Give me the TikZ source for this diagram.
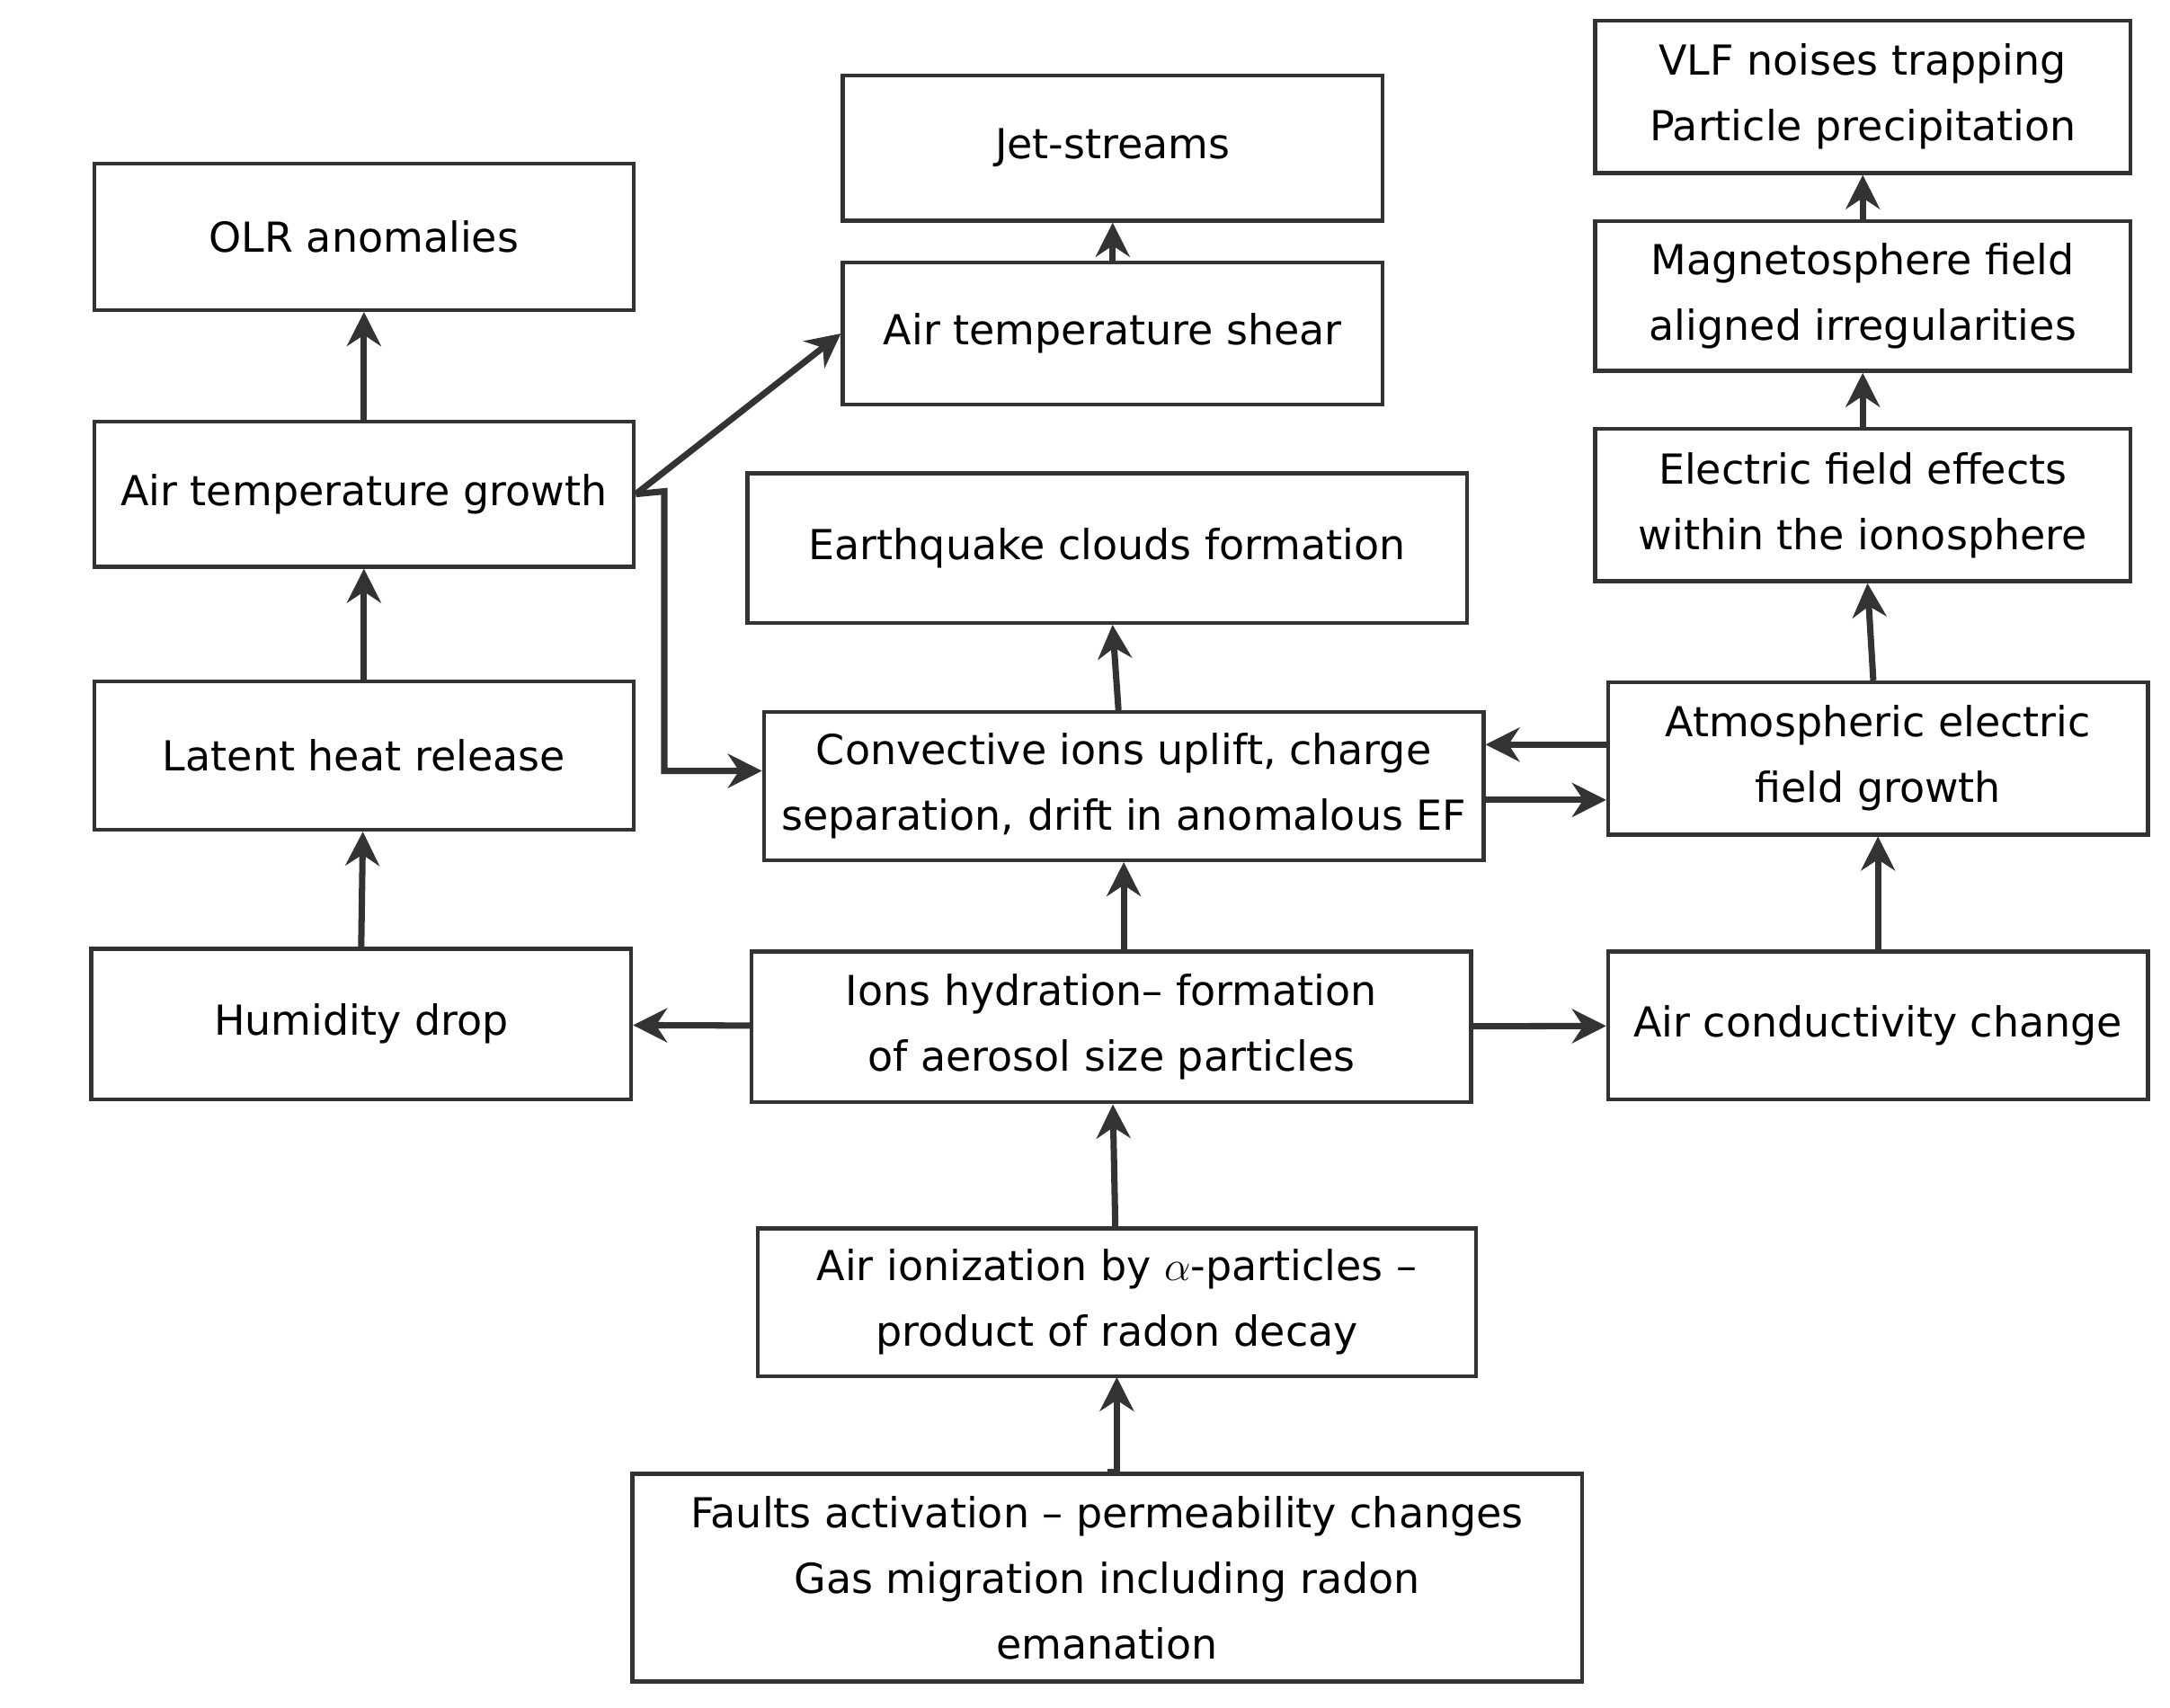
\documentclass[tikz,border=0pt]{standalone}
\usepackage{fontspec}
\setmainfont{DejaVu Sans}
\usetikzlibrary{arrows.meta}
\begin{document}
\begin{tikzpicture}[x=0.02cm,y=-0.02cm,
  box/.style 2 args={draw=black!80,line width=1.6pt,align=center,inner sep=0pt,
    minimum width={#1*0.02cm},minimum height={#2*0.02cm},
    font=\fontsize{17}{27}\selectfont},
  arr/.style={line width=2.6pt,draw=black!80,-{Stealth[length=14pt,width=14pt]}}]
\useasboundingbox (0,0) rectangle (1568,1234);
\node[box={390}{106}] (olr) at (263,171) {OLR anomalies};
\node[box={390}{105}] (jet) at (804,107) {Jet-streams};
\node[box={387}{110}] (vlf) at (1346,70) {VLF noises trapping\\Particle precipitation};
\node[box={390}{103}] (shear) at (804,241) {Air temperature shear};
\node[box={387}{108}] (mag) at (1346,214) {Magnetosphere field\\aligned irregularities};
\node[box={390}{105}] (atg) at (263,357) {Air temperature growth};
\node[box={520}{108}] (eqc) at (800,396) {Earthquake clouds formation};
\node[box={387}{110}] (efe) at (1346,365) {Electric field effects\\within the ionosphere};
\node[box={390}{107}] (lhr) at (263,546) {Latent heat release};
\node[box={520}{107}] (conv) at (812,568) {Convective ions uplift, charge\\separation, drift in anomalous EF};
\node[box={390}{110}] (aef) at (1357,548) {Atmospheric electric\\field growth};
\node[box={390}{109}] (hum) at (261,740) {Humidity drop};
\node[box={520}{109}] (ion) at (803,742) {Ions hydration-- formation\\of aerosol size particles};
\node[box={390}{107}] (acc) at (1357,741) {Air conductivity change};
\node[box={519}{107}] (air) at (807,941) {Air ionization by $\alpha$-particles --\\product of radon decay};
\node[box={686}{150}] (flt) at (800,1140) {Faults activation -- permeability changes\\Gas migration including radon\\emanation};
\coordinate (bend1) at (480,355);
\coordinate (bend2) at (480,557);
\draw[arr] (flt.north) -- (air.north|-flt.north) ++(0,0) -- (807,995) ;
\draw[arr] (air) -- (ion);
\draw[arr] (ion.north-|conv) ++(0,0) -- (conv);
\draw[arr] (ion) -- (hum);
\draw[arr] (ion) -- (acc);
\draw[arr] (acc) -- (aef);
\draw[arr] (aef) -- (efe);
\draw[arr] (efe) -- (mag);
\draw[arr] (mag) -- (vlf);
\draw[arr] (hum.north) -- (lhr);
\draw[arr] (lhr) -- (atg);
\draw[arr] (atg) -- (olr);
\draw[arr] (conv) -- (eqc);
\draw[arr] (shear) -- (jet);
\draw[arr] (atg.east) -- (shear.west);
\draw[arr] (atg.east) -- (bend1) -- (bend2) -- (conv.west|-bend2);
\draw[arr] ([yshift=-0.2cm]conv.east) -- ([yshift=-0.2cm]aef.west|-conv.east);
\draw[arr] ([yshift=0.6cm]aef.west|-conv.east) -- ([yshift=0.6cm]conv.east);
\end{tikzpicture}
\end{document}
